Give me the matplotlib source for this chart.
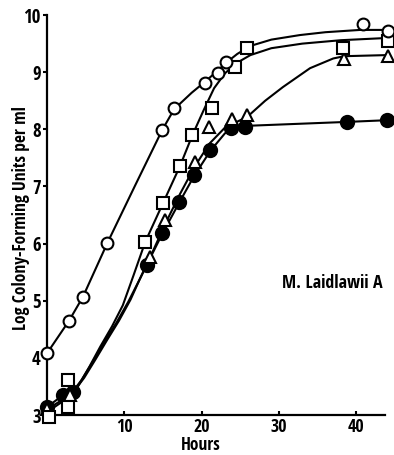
import matplotlib
matplotlib.use("Agg")
import matplotlib.pyplot as plt

# ------------------------------------------------------------------
# Data (hours, log CFU per ml)
# ------------------------------------------------------------------
open_circ_h = [0, 2.85, 4.65, 7.8, 14.9, 16.4, 20.4, 22.1, 23.2, 40.9, 44.1]
open_circ_v = [4.08, 4.65, 5.07, 6.01, 7.99, 8.37, 8.81, 8.99, 9.18, 9.84, 9.72]

square_h = [0.3, 2.7, 2.7, 12.7, 15.0, 17.2, 18.8, 21.3, 24.3, 25.9, 38.3, 44.1]
square_v = [2.97, 3.14, 3.61, 6.03, 6.71, 7.36, 7.90, 8.37, 9.09, 9.42, 9.42, 9.55]

tri_h = [0, 3.0, 13.3, 15.3, 19.1, 21.0, 23.9, 25.9, 38.4, 44.1]
tri_v = [3.1, 3.35, 5.77, 6.41, 7.43, 8.04, 8.18, 8.25, 9.23, 9.28]

filled_h = [0, 2.1, 3.4, 12.9, 14.9, 17.1, 19.0, 21.1, 23.8, 25.6, 38.8, 44.0]
filled_v = [3.14, 3.35, 3.40, 5.63, 6.19, 6.73, 7.2, 7.64, 8.02, 8.04, 8.13, 8.16]

# hand-drawn fitted curves
open_curve_h = [0, 2.85, 4.65, 7.8, 11.4, 14.9, 16.0, 17.2, 18.7, 20.4, 22.0, 23.2,
                24.6, 26.3, 29.0, 32.7, 36.0, 40.5, 44.1]
open_curve_v = [4.08, 4.65, 5.07, 6.01, 7.02, 7.99, 8.25, 8.45, 8.64, 8.83, 9.02, 9.17,
                9.32, 9.46, 9.57, 9.65, 9.7, 9.74, 9.74]

square_curve_h = [0, 2.7, 4.0, 5.5, 6.9, 8.4, 9.8, 11.2, 12.7, 15.0, 17.2, 18.8,
                  20.3, 21.6, 23.0, 24.5, 26.3, 29, 33, 38, 44.1]
square_curve_v = [3.05, 3.3, 3.5, 3.85, 4.2, 4.55, 4.92, 5.45, 6.03, 6.71, 7.36,
                  7.9, 8.35, 8.72, 8.98, 9.16, 9.3, 9.42, 9.5, 9.56, 9.6]

tri_curve_h = [0, 3.0, 4.5, 6.0, 7.5, 9.0, 10.5, 12.0, 13.3, 15.3, 17.2, 19.1,
               21.0, 23.0, 25.9, 28.2, 30.5, 34.0, 37.0, 38.4, 44.1]
tri_curve_v = [3.1, 3.35, 3.62, 3.95, 4.3, 4.62, 4.98, 5.38, 5.75, 6.35, 6.87,
               7.35, 7.75, 8.03, 8.22, 8.5, 8.74, 9.07, 9.24, 9.28, 9.3]

filled_curve_h = [0, 2.1, 3.4, 4.8, 6.3, 7.8, 9.3, 10.8, 12.0, 12.9, 14.9, 17.1,
                  19.0, 21.1, 23.0, 24.5, 25.6, 38.8, 44.0]
filled_curve_v = [3.14, 3.35, 3.40, 3.65, 3.98, 4.32, 4.65, 5.02, 5.38, 5.63,
                  6.17, 6.72, 7.18, 7.62, 7.93, 8.04, 8.06, 8.13, 8.16]

x_ticks = [10, 20, 30, 40]
y_ticks = [3, 4, 5, 6, 7, 8, 9, 10]

# condensed bold face if one is installed, DejaVu otherwise
FONT = ["Open Sans Condensed", "Noto Sans ExtraCondensed",
        "Noto Sans Condensed", "DejaVu Sans"]
plt.rcParams["font.family"] = FONT
plt.rcParams["font.weight"] = "bold"
plt.rcParams["font.stretch"] = "condensed"

fig = plt.figure(figsize=(3.94, 4.55), dpi=100)
ax = fig.add_axes([0.1193, 0.0879, 0.858, 0.879])

# ------------------------------------------------------------------
# Curves
# ------------------------------------------------------------------
for h, v in [(open_curve_h, open_curve_v), (square_curve_h, square_curve_v),
             (tri_curve_h, tri_curve_v), (filled_curve_h, filled_curve_v)]:
    ax.plot(h, v, color="black", linewidth=1.5, clip_on=False, zorder=2)

# ------------------------------------------------------------------
# Markers
# ------------------------------------------------------------------
mk = dict(linestyle="none", markeredgecolor="black", markeredgewidth=1.5,
          clip_on=False, zorder=4)
ax.plot(filled_h, filled_v, marker="o", markersize=9.5, markerfacecolor="black", **mk)
ax.plot(tri_h, tri_v, marker="^", markersize=8.5, markerfacecolor="white", **mk)
ax.plot(square_h, square_v, marker="s", markersize=8, markerfacecolor="white", **mk)
ax.plot(open_circ_h, open_circ_v, marker="o", markersize=8.5, markerfacecolor="white", **mk)

# ------------------------------------------------------------------
# Axes formatting
# ------------------------------------------------------------------
ax.set_xlim(0, 43.7)
ax.set_ylim(3, 10)
ax.set_xticks(x_ticks)
ax.set_yticks(y_ticks)
ax.spines["top"].set_visible(False)
ax.spines["right"].set_visible(False)
for s in ("left", "bottom"):
    ax.spines[s].set_linewidth(1.6)
ax.tick_params(axis="y", direction="out", length=3, width=1.5, pad=1.5,
               labelsize=13.5)
ax.tick_params(axis="x", direction="in", length=3, width=1.5, pad=2,
               labelsize=13)

ax.text(36.9, 5.31, "M. Laidlawii A", ha="center", va="center", fontsize=13)

fig.text(21 / 394, 1 - 218 / 455, "Log Colony-Forming Units per ml",
         rotation=90, ha="center", va="center", fontsize=12.5)
fig.text(201 / 394, 0.5 / 455, "Hours", ha="center", va="bottom",
         fontsize=12.5)

fig.savefig("out.png", dpi=100)
